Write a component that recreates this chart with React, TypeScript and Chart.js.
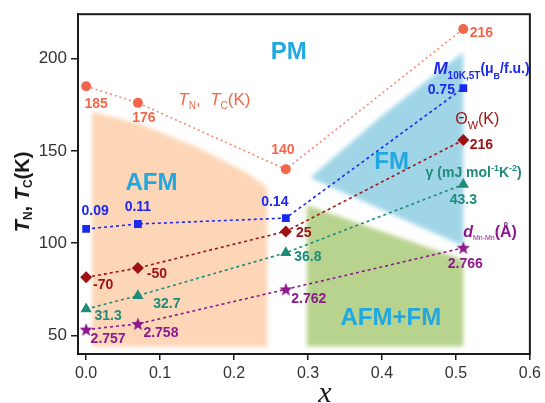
import React, { useEffect, useRef } from 'react';
import { Chart, registerables } from 'chart.js';

Chart.register(...registerables);

// ---- data ----
const xValues = [0, 0.07, 0.27, 0.51];
const tValues = [185, 176, 140, 216];
const mValues = [107.7, 110.4, 113.6, 184];
const thetaValues = [81.5, 86.6, 106.4, 155.9];
const gammaValues = [64.3, 71.6, 94.8, 131.8];
const dValues = [53.2, 56.3, 75, 97.5];

const tLabels = ['185', '176', '140', '216'];
const mLabels = ['0.09', '0.11', '0.14', '0.75'];
const thetaLabels = ['-70', '-50', '25', '216'];
const gammaLabels = ['31.3', '32.7', '36.8', '43.3'];
const dLabels = ['2.757', '2.758', '2.762', '2.766'];

const xTicks = [0, 0.1, 0.2, 0.3, 0.4, 0.5, 0.6];
const yTicks = [50, 100, 150, 200];

// phase regions (data coordinates)
const afmX = [0.008, 0.07, 0.15, 0.22, 0.245, 0.245, 0.008];
const afmY = [171, 165, 152, 137.5, 130, 44, 44];
const fmX = [0.303, 0.4, 0.508, 0.51, 0.51];
const fmY = [135.4, 169, 202.7, 202, 98.5];
const afmfmX = [0.2985, 0.51, 0.51, 0.2985];
const afmfmY = [120.5, 91, 44, 44];

const regionNames = ['PM', 'AFM', 'FM', 'AFM+FM'];
const regionX = [0.274, 0.0884, 0.413, 0.412];
const regionY = [204, 133, 144.3, 59.9];

// ---- styles ----
const C_T = '#f2674c';
const C_T_LINE = '#f38a78';
const C_M = '#1c28f0';
const C_TH = '#9c1212';
const C_G = '#1e8b7b';
const C_D = '#8d1a8d';
const C_CYAN = '#22a8e0';
const FILL_AFM = 'rgb(252, 214, 182)';
const FILL_FM = 'rgb(160, 213, 231)';
const FILL_AFMFM = 'rgb(184, 211, 142)';

const FONT = '"Liberation Sans", Arial, sans-serif';

// label offsets in pixels, per series per point
const tOff = [[10, 18], [6, 15], [-3, -19], [18, 4]];
const mOff = [[9, -18], [0, -17], [-11, -16], [-22, 2]];
const thOff = [[17, 8], [19, 6], [18, 2], [18, 5]];
const gOff = [[22, 7], [29, 8], [22, 4], [0, 16]];
const dOff = [[22, 10], [23, 9], [23, 10], [2, 16]];

type Seg = { t: string; font: string; dy?: number };

function drawRich(ctx: CanvasRenderingContext2D, segs: Seg[], x: number, y: number, color: string, align: 'left' | 'center' = 'left') {
  ctx.save();
  ctx.fillStyle = color;
  ctx.textBaseline = 'middle';
  ctx.textAlign = 'left';
  let w = 0;
  for (const s of segs) {
    ctx.font = s.font;
    w += ctx.measureText(s.t).width;
  }
  let cx = align === 'center' ? x - w / 2 : x;
  for (const s of segs) {
    ctx.font = s.font;
    ctx.fillText(s.t, cx, y + (s.dy || 0));
    cx += ctx.measureText(s.t).width;
  }
  ctx.restore();
}

function makeStar(color: string, r: number) {
  const c = document.createElement('canvas');
  const s = Math.ceil(r * 2 + 2);
  c.width = s;
  c.height = s;
  const g = c.getContext('2d')!;
  g.fillStyle = color;
  g.beginPath();
  const cx = s / 2, cy = s / 2 + 0.5;
  for (let i = 0; i < 10; i++) {
    const rr = i % 2 === 0 ? r : r * 0.42;
    const a = -Math.PI / 2 + (i * Math.PI) / 5;
    const px = cx + rr * Math.cos(a);
    const py = cy + rr * Math.sin(a);
    if (i === 0) g.moveTo(px, py);
    else g.lineTo(px, py);
  }
  g.closePath();
  g.fill();
  return c;
}

const pts = (ys: number[]) => xValues.map((x, i) => ({ x, y: ys[i] }));

export default function App() {
  const ref = useRef<HTMLCanvasElement | null>(null);

  useEffect(() => {
    document.body.style.margin = '0';
    const canvas = ref.current;
    if (!canvas) return;

    const regionsPlugin = {
      id: 'regions',
      beforeDatasetsDraw(chart: any) {
        const { ctx, chartArea, scales } = chart;
        const xs = scales.x, ys = scales.y;
        const polys: [number[], number[], string][] = [
          [afmX, afmY, FILL_AFM],
          [fmX, fmY, FILL_FM],
          [afmfmX, afmfmY, FILL_AFMFM],
        ];
        ctx.save();
        ctx.beginPath();
        ctx.rect(chartArea.left, chartArea.top, chartArea.right - chartArea.left, chartArea.bottom - chartArea.top);
        ctx.clip();
        ctx.filter = 'blur(2px)';
        for (const [px, py, col] of polys) {
          ctx.beginPath();
          px.forEach((v, i) => {
            const X = xs.getPixelForValue(v);
            const Y = ys.getPixelForValue(py[i]);
            if (i === 0) ctx.moveTo(X, Y);
            else ctx.lineTo(X, Y);
          });
          ctx.closePath();
          ctx.fillStyle = col;
          ctx.fill();
        }
        ctx.filter = 'none';
        // region names
        ctx.fillStyle = C_CYAN;
        ctx.font = `bold 24px ${FONT}`;
        ctx.textAlign = 'center';
        ctx.textBaseline = 'middle';
        regionNames.forEach((n, i) => {
          ctx.fillText(n, xs.getPixelForValue(regionX[i]), ys.getPixelForValue(regionY[i]) + 1);
        });
        ctx.restore();
      },
      afterDatasetsDraw(chart: any) {
        const { ctx, scales } = chart;
        const xs = scales.x, ys = scales.y;
        const sets: [string[], number[][], string][] = [
          [tLabels, tOff, C_T],
          [mLabels, mOff, C_M],
          [thetaLabels, thOff, C_TH],
          [gammaLabels, gOff, C_G],
          [dLabels, dOff, C_D],
        ];
        ctx.save();
        ctx.font = `bold 14px ${FONT}`;
        ctx.textAlign = 'center';
        ctx.textBaseline = 'middle';
        sets.forEach(([labels, off, col], di) => {
          const meta = chart.getDatasetMeta(di);
          ctx.fillStyle = col;
          labels.forEach((l, i) => {
            const el = meta.data[i];
            ctx.fillText(l, el.x + off[i][0], el.y + off[i][1]);
          });
        });
        ctx.restore();

        const X = (v: number) => xs.getPixelForValue(v);
        const Y = (v: number) => ys.getPixelForValue(v);
        // series names
        drawRich(ctx, [
          { t: 'T', font: `italic 17px ${FONT}` },
          { t: 'N', font: `10px ${FONT}`, dy: 6 },
          { t: ',  ', font: `17px ${FONT}` },
          { t: 'T', font: `italic 17px ${FONT}` },
          { t: 'C', font: `10px ${FONT}`, dy: 6 },
          { t: '(K)', font: `17px ${FONT}` },
        ], X(0.1247), Y(177.5), C_T);
        drawRich(ctx, [
          { t: 'M', font: `bold italic 17px ${FONT}` },
          { t: '10K,5T', font: `bold 10px ${FONT}`, dy: 7 },
          { t: '(μ', font: `bold 14px ${FONT}` },
          { t: 'B', font: `bold 9px ${FONT}`, dy: 7 },
          { t: '/f.u.)', font: `bold 14px ${FONT}` },
        ], X(0.4696), Y(194.3), C_M);
        drawRich(ctx, [
          { t: 'Θ', font: `16px ${FONT}` },
          { t: 'W', font: `11px ${FONT}`, dy: 6 },
          { t: '(K)', font: `16px ${FONT}` },
        ], X(0.499), Y(166.8), C_TH);
        drawRich(ctx, [
          { t: 'γ (mJ mol', font: `bold 14px ${FONT}` },
          { t: '-1', font: `bold 9px ${FONT}`, dy: -5 },
          { t: 'K', font: `bold 14px ${FONT}` },
          { t: '-2', font: `bold 9px ${FONT}`, dy: -5 },
          { t: ')', font: `bold 14px ${FONT}` },
        ], X(0.459), Y(138), C_G);
        drawRich(ctx, [
          { t: 'd', font: `bold italic 16px ${FONT}` },
          { t: 'Mn-Mn', font: `7px ${FONT}`, dy: 6 },
          { t: '(Å)', font: `bold 16px ${FONT}` },
        ], X(0.5098), Y(105.9), C_D);
      },
      afterDraw(chart: any) {
        const { ctx, chartArea } = chart;
        ctx.save();
        ctx.strokeStyle = '#1a1a1a';
        ctx.lineWidth = 2;
        ctx.strokeRect(chartArea.left, chartArea.top, chartArea.right - chartArea.left, chartArea.bottom - chartArea.top);
        // y title
        ctx.translate(23, 192);
        ctx.rotate(-Math.PI / 2);
        const segs: Seg[] = [
          { t: 'T', font: `bold italic 20px ${FONT}` },
          { t: 'N', font: `bold 12px ${FONT}`, dy: 6 },
          { t: ', ', font: `bold 20px ${FONT}` },
          { t: 'T', font: `bold italic 20px ${FONT}` },
          { t: 'C', font: `bold 12px ${FONT}`, dy: 6 },
          { t: '(K)', font: `bold 20px ${FONT}` },
        ];
        drawRich(ctx, segs, 0, 0, '#1a1a1a', 'center');
        ctx.restore();
        // x title
        ctx.save();
        ctx.fillStyle = '#1a1a1a';
        ctx.font = 'italic 30px "Liberation Serif", "DejaVu Serif", serif';
        ctx.textAlign = 'center';
        ctx.textBaseline = 'alphabetic';
        ctx.fillText('x', 325, 402);
        ctx.restore();
      },
    };

    const ds = (data: number[], color: string, lineColor: string, style: any, radius: number, dash: number[]) => ({
      data: pts(data),
      showLine: true,
      borderColor: lineColor,
      borderWidth: 1.6,
      borderDash: dash,
      backgroundColor: color,
      pointBackgroundColor: color,
      pointBorderColor: color,
      pointBorderWidth: 0,
      pointStyle: style,
      pointRadius: radius,
      pointHoverRadius: radius,
    });

    const chart = new Chart(canvas, {
      type: 'scatter',
      data: {
        datasets: [
          ds(tValues, C_T, C_T_LINE, 'circle', 5, [2, 3]),
          ds(mValues, C_M, C_M, 'rect', 5.5, [3, 3]),
          ds(thetaValues, C_TH, C_TH, 'rectRot', 6, [3, 3]),
          ds(gammaValues, C_G, C_G, 'triangle', 6.5, [3, 3]),
          ds(dValues, C_D, C_D, makeStar(C_D, 7) as any, 6, [3, 3]),
        ] as any,
      },
      plugins: [regionsPlugin],
      options: {
        animation: false,
        responsive: false,
        devicePixelRatio: 1,
        layout: { padding: { top: 12, right: 9, left: 0, bottom: 0 } },
        plugins: { legend: { display: false }, tooltip: { enabled: false } },
        scales: {
          x: {
            type: 'linear',
            min: -0.011,
            max: 0.6,
            afterBuildTicks: (s: any) => {
              s.ticks = xTicks.map((v) => ({ value: v }));
            },
            afterFit: (s: any) => {
              s.height = 49;
            },
            ticks: {
              callback: (v: any) => Number(v).toFixed(1),
              font: { family: FONT, size: 16 },
              color: '#333',
              padding: 4,
              maxRotation: 0,
            },
            grid: { drawOnChartArea: false, tickLength: 6, color: '#1a1a1a', lineWidth: 1.5 },
            border: { display: true, color: '#1a1a1a', width: 2 },
          },
          y: {
            type: 'linear',
            min: 40,
            max: 224,
            afterBuildTicks: (s: any) => {
              s.ticks = yTicks.map((v) => ({ value: v }));
            },
            afterFit: (s: any) => {
              s.width = 78;
            },
            ticks: {
              font: { family: FONT, size: 17 },
              color: '#333',
              padding: 4,
            },
            grid: { drawOnChartArea: false, tickLength: 7, color: '#1a1a1a', lineWidth: 1.5 },
            border: { display: true, color: '#1a1a1a', width: 2 },
          },
        },
      },
    });
    return () => chart.destroy();
  }, []);

  return (
    <div style={{ width: 545, height: 403, background: '#fff', overflow: 'hidden' }}>
      <canvas ref={ref} width={545} height={403} />
    </div>
  );
}
